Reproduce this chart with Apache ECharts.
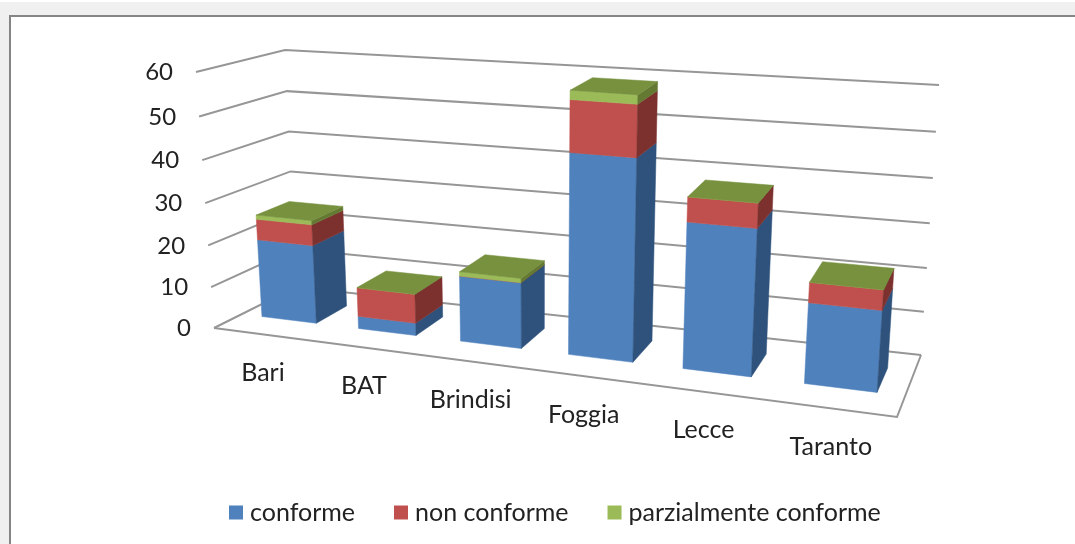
<!DOCTYPE html>
<html>
<head>
<meta charset="utf-8">
<title>Conformità per provincia</title>
<script src="https://cdn.jsdelivr.net/npm/echarts@6/dist/echarts.min.js"></script>
<style>
  html, body { margin: 0; padding: 0; background: #fff; }
  #chart { width: 1075px; height: 544px; }
</style>
</head>
<body>
<div id="chart"></div>
<script>
var categories = ['Bari', 'BAT', 'Brindisi', 'Foggia', 'Lecce', 'Taranto'];
var yTicks = [0, 10, 20, 30, 40, 50, 60];
var conforme = [19, 3, 15.5, 46, 33, 18];
var nonConforme = [5, 7, 0, 11.5, 5.5, 4.5];
var parzialmente = [1, 0, 1, 2, 0, 0];

// screen corners of the 3d box, [floor, top] for each vertical edge
var FL = [[214, 328], [196, 72]];
var FR = [[897, 417], [917, 126]];
var BL = [[296, 287], [285, 50]];
var BR = [[921, 355], [939, 85]];
var KEYSTONE_X = 1.19;   // categories get wider towards the viewer
var KEYSTONE_Y = 1.05;   // and the upper values a little taller
var DEPTH_FRONT = 0.34, DEPTH_BACK = 0.74;
var BAR_RATIO = 0.57;
var FONT = 'Lato, "Open Sans", sans-serif';
var LINE = '#969696';

function mix(a, b, t) {
  return [a[0] + (b[0] - a[0]) * t, a[1] + (b[1] - a[1]) * t];
}

function warp(x, k) {
  return x / (x + k * (1 - x));
}

// u, v, w all 0..1: along categories, up the value axis, into the depth
function project(u, v, w) {
  var t = warp(u, KEYSTONE_X);
  var h = warp(v, KEYSTONE_Y);
  var front = mix(mix(FL[0], FR[0], t), mix(FL[1], FR[1], t), h);
  var back = mix(mix(BL[0], BR[0], t), mix(BL[1], BR[1], t), h);
  return mix(front, back, w);
}

// pixel from the hidden axes -> normalised position in the box
function norm(api, params, x, y) {
  var p = api.coord([x, y]);
  var cs = params.coordSys;
  return [(p[0] - cs.x) / cs.width, 1 - (p[1] - cs.y) / cs.height];
}

function face(points, color) {
  return {
    type: 'polygon',
    shape: { points: points },
    style: { fill: color, stroke: color, lineWidth: 0.5 }
  };
}

function segmentSeries(name, values, bases, colors, withTop) {
  return {
    name: name,
    type: 'custom',
    coordinateSystem: 'cartesian2d',
    itemStyle: { color: colors.front },
    encode: { x: 0, y: 2 },
    data: values.map(function (v, i) { return [i, bases[i], bases[i] + v]; }),
    z: 3,
    silent: true,
    renderItem: function (params, api) {
      var i = api.value(0);
      var low = norm(api, params, i, api.value(1));
      var high = norm(api, params, i, api.value(2));
      var half = BAR_RATIO * api.size([1, 0])[0] / params.coordSys.width / 2;
      var l = low[0] - half, r = low[0] + half;
      var f = DEPTH_FRONT, b = DEPTH_BACK;
      var children = [
        face([project(l, low[1], f), project(r, low[1], f), project(r, high[1], f), project(l, high[1], f)], colors.front),
        face([project(r, low[1], f), project(r, low[1], b), project(r, high[1], b), project(r, high[1], f)], colors.side)
      ];
      if (withTop) {
        children.push(face([project(l, high[1], f), project(r, high[1], f), project(r, high[1], b), project(l, high[1], b)], colors.top));
      }
      return { type: 'group', children: children };
    }
  };
}

var base2 = conforme.map(function (v, i) { return v + nonConforme[i]; });
var zeros = categories.map(function () { return 0; });

var option = {
  animation: false,
  backgroundColor: '#fff',
  grid: { left: 0, right: 0, top: 0, bottom: 0 },
  xAxis: { type: 'category', data: categories, show: false },
  yAxis: { type: 'value', min: 0, max: 60, interval: 10, show: false },
  legend: {
    data: ['conforme', 'non conforme', 'parzialmente conforme'],
    left: 224,
    top: 495,
    icon: 'rect',
    itemWidth: 14,
    itemHeight: 14,
    itemGap: 39,
    textStyle: { fontFamily: FONT, fontSize: 25, color: '#222', padding: [0, 0, 0, 2] }
  },
  graphic: [
    { type: 'rect', z: -10, shape: { x: 0, y: 2, width: 1075, height: 542 }, style: { fill: '#f0f0f0' } },
    { type: 'rect', z: -9, shape: { x: 10, y: 16, width: 1100, height: 560 }, style: { fill: '#fff', stroke: '#858585', lineWidth: 2 } }
  ],
  series: [
    {
      // value gridlines + value labels
      type: 'custom',
      coordinateSystem: 'cartesian2d',
      encode: { y: 1 },
      data: yTicks.map(function (t) { return [0, t]; }),
      z: 1,
      silent: true,
      renderItem: function (params, api) {
        var v = norm(api, params, 0, api.value(1))[1];
        var a = project(0, v, 0);
        var children = [{
          type: 'polyline',
          shape: { points: [a, project(0, v, 1), project(1, v, 1)] },
          style: { fill: 'none', stroke: LINE, lineWidth: 2 }
        }, {
          type: 'text',
          style: {
            text: String(api.value(1)), x: a[0] - 23, y: a[1] + 0.5,
            align: 'right', verticalAlign: 'middle',
            font: '24px ' + FONT, fill: '#222'
          }
        }];
        if (v === 0) {
          children.push({
            type: 'polyline',
            shape: { points: [a, project(1, 0, 0), project(1, 0, 1)] },
            style: { fill: 'none', stroke: LINE, lineWidth: 2 }
          });
        }
        return { type: 'group', children: children };
      }
    },
    {
      // category labels under the front edge
      type: 'custom',
      coordinateSystem: 'cartesian2d',
      encode: { x: 0 },
      data: categories.map(function (c, i) { return [i, 0, c]; }),
      z: 2,
      silent: true,
      renderItem: function (params, api) {
        var n = norm(api, params, api.value(0), 0);
        var p = project(n[0], 0, 0);
        return {
          type: 'text',
          style: {
            text: categories[api.value(0)], x: p[0] + 0.5, y: p[1] + 38.5,
            align: 'center', verticalAlign: 'middle',
            font: '25px ' + FONT, fill: '#222'
          }
        };
      }
    },
    segmentSeries('conforme', conforme, zeros, { front: '#4f81bd', side: '#2f527c' }, false),
    segmentSeries('non conforme', nonConforme, conforme, { front: '#c0504d', side: '#7d312f' }, false),
    segmentSeries('parzialmente conforme', parzialmente, base2, { front: '#9bbb59', side: '#647a33', top: '#77913f' }, true)
  ]
};

var chart = echarts.init(document.getElementById('chart'), null, { renderer: 'canvas' });
chart.setOption(option);
</script>
</body>
</html>
